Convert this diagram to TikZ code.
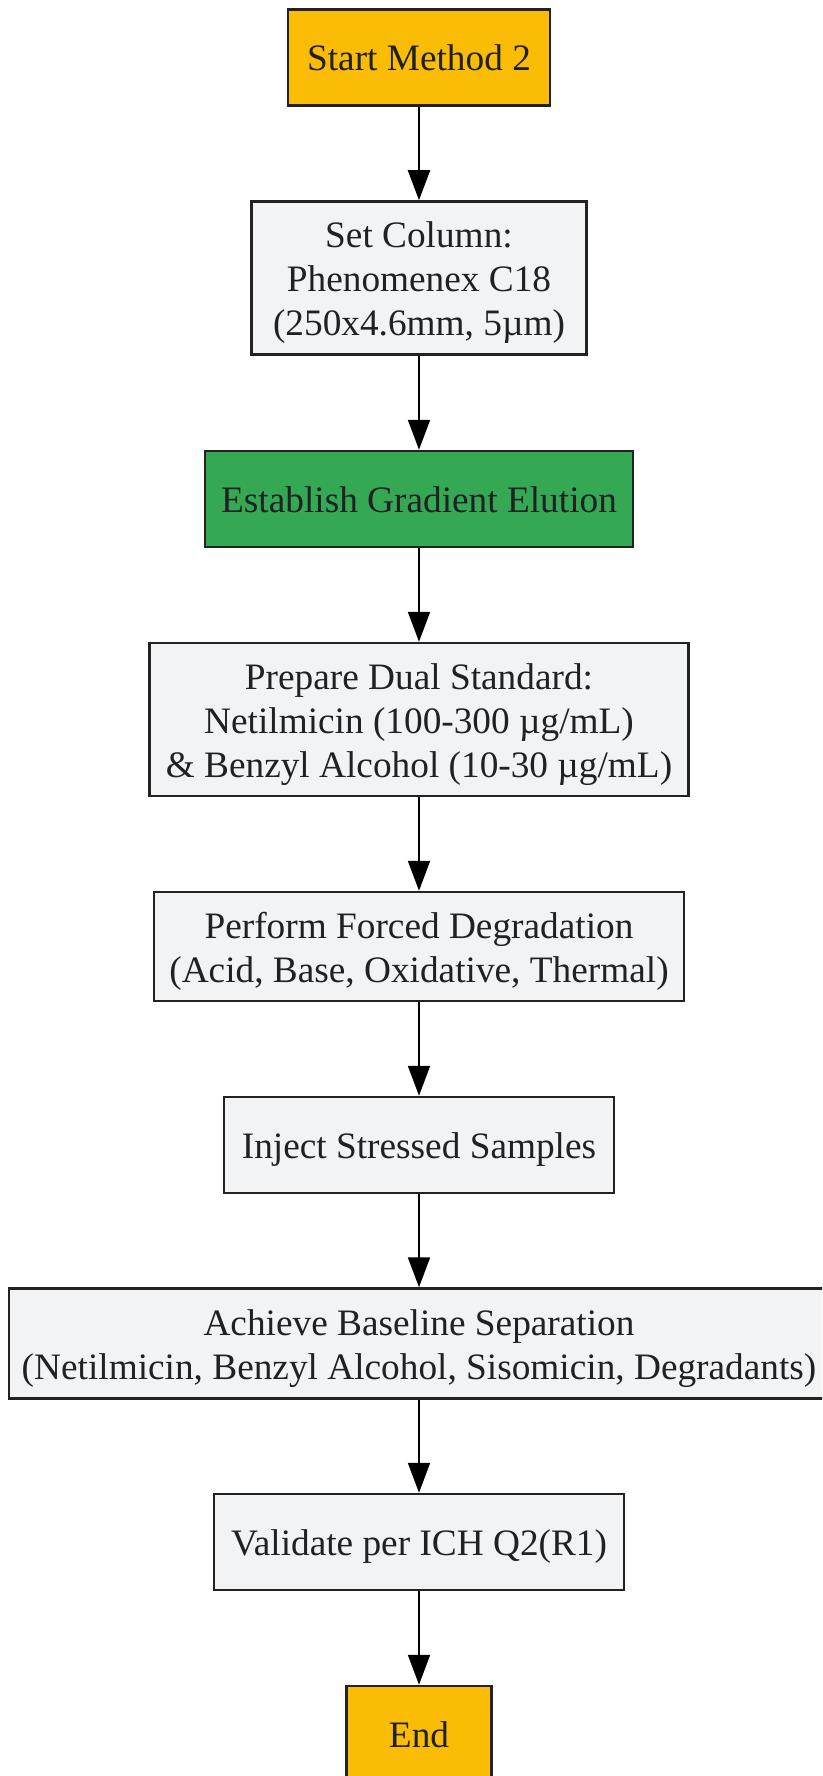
\documentclass[tikz,border=0pt]{standalone}
\usepackage{fontspec}
\setmainfont{Liberation Serif}
\usetikzlibrary{arrows.meta}
\definecolor{gyellow}{HTML}{FBBC05}
\definecolor{ggreen}{HTML}{34A853}
\definecolor{ggrey}{HTML}{F1F3F4}
\definecolor{gborder}{HTML}{222222}
\definecolor{gtext}{HTML}{202124}
\begin{document}
\begin{tikzpicture}[x=1pt,y=-1pt,
  box/.style={draw=gborder, line width=2.5pt, inner sep=0pt, align=center, text=gtext,
    font=\fontsize{37.3}{44}\selectfont, fill=ggrey, text height=27pt, text depth=0pt},
  twoline/.style={text height=71pt},
  threeline/.style={text height=115pt},
  startend/.style={box, fill=gyellow},
  greenbox/.style={box, fill=ggreen},
  flow/.style={line width=2pt, draw=black, -{Triangle[length=30pt,width=22pt]}}]
\useasboundingbox (0,0) rectangle (822,1776);
\clip (0,0) rectangle (822,1776);
\node[startend, minimum width=262pt, minimum height=96pt] (n1) at (419,57.5) {Start Method 2};
\node[box, threeline, minimum width=335pt, minimum height=153pt] (n2) at (419,278) {Set Column:\\Phenomenex C18\\(250x4.6mm, 5µm)};
\node[greenbox, minimum width=428pt, minimum height=96pt] (n3) at (419,499) {Establish Gradient Elution};
\node[box, threeline, minimum width=539pt, minimum height=153pt] (n4) at (419,719.5) {Prepare Dual Standard:\\Netilmicin (100-300 µg/mL)\\\& Benzyl Alcohol (10-30 µg/mL)};
\node[box, twoline, minimum width=530pt, minimum height=109pt] (n5) at (419,946.5) {Perform Forced Degradation\\(Acid, Base, Oxidative, Thermal)};
\node[box, minimum width=390pt, minimum height=96pt] (n6) at (419,1145) {Inject Stressed Samples};
\node[box, twoline, minimum width=820pt, minimum height=110pt] (n7) at (419,1343.5) {Achieve Baseline Separation\\(Netilmicin, Benzyl Alcohol, Sisomicin, Degradants)};
\node[box, minimum width=410pt, minimum height=96pt] (n8) at (419,1542) {Validate per ICH Q2(R1)};
\node[startend, minimum width=145pt, minimum height=96pt] (n9) at (419,1734) {End};
\draw[flow] (n1) -- (n2);
\draw[flow] (n2) -- (n3);
\draw[flow] (n3) -- (n4);
\draw[flow] (n4) -- (n5);
\draw[flow] (n5) -- (n6);
\draw[flow] (n6) -- (n7);
\draw[flow] (n7) -- (n8);
\draw[flow] (n8) -- (n9);
\end{tikzpicture}
\end{document}
